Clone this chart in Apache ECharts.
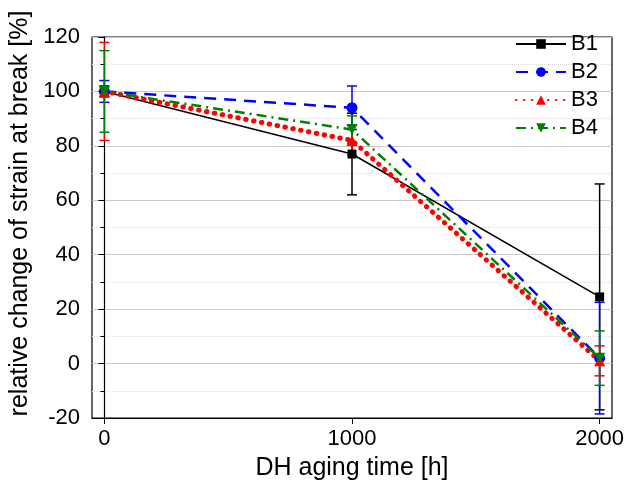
<!DOCTYPE html>
<html>
<head>
<meta charset="utf-8">
<script src="https://cdn.jsdelivr.net/npm/echarts@6/dist/echarts.min.js"></script>
<style>
  html, body { margin: 0; padding: 0; background: #fff; }
  #chart { width: 624px; height: 483px; }
</style>
</head>
<body>
<div id="chart"></div>
<script>
// aging time [h]
const hours = [0, 1000, 2000];
const xTicks = [0, 1000, 2000];

// mean values [%]
const b1 = [100, 77, 24.5];
const b2 = [100, 94, 2];
const b3 = [100, 82, 1];
const b4 = [100, 86, 2];

// error bar half widths [%]
const b1Err = [2, 15, 41.5];
const b2Err = [4, 8, 20.5];
const b3Err = [18, 5.5, 5.5];
const b4Err = [15, 5, 10];

const names = ['B1', 'B2', 'B3', 'B4'];
const colors = ['#000000', '#0000ff', '#ff0000', '#008000'];

const chart = echarts.init(document.getElementById('chart'));

function pairs(vals) {
    return hours.map((h, i) => [h, vals[i]]);
}

function errData(vals, errs) {
    return hours.map((h, i) => [h, vals[i] - errs[i], vals[i] + errs[i]]);
}

function errorRenderer(color) {
    return function (params, api) {
        const top = api.coord([api.value(0), api.value(2)]);
        const bot = api.coord([api.value(0), api.value(1)]);
        const half = 5;
        const style = { stroke: color, lineWidth: 1.5 };
        return {
            type: 'group',
            children: [
                { type: 'line', shape: { x1: top[0], y1: top[1], x2: bot[0], y2: bot[1] }, style: style },
                { type: 'line', shape: { x1: top[0] - half, y1: top[1], x2: top[0] + half, y2: top[1] }, style: style },
                { type: 'line', shape: { x1: bot[0] - half, y1: bot[1], x2: bot[0] + half, y2: bot[1] }, style: style }
            ]
        };
    };
}

const lineDefs = [
    { vals: b1, errs: b1Err, symbol: 'rect', size: 9, lineType: 'solid', width: 1.5, cap: 'butt' },
    { vals: b2, errs: b2Err, symbol: 'circle', size: 11, lineType: [12, 8], width: 2.5, cap: 'butt' },
    { vals: b3, errs: b3Err, symbol: 'triangle', size: 11, lineType: [0.5, 7.5], width: 5, cap: 'round' },
    { vals: b4, errs: b4Err, symbol: 'path://M0,0L10,0L5,9Z', size: 11, lineType: [10, 5, 2, 5], width: 2.5, cap: 'butt' }
];

const series = [];
lineDefs.forEach((d, i) => {
    series.push({
        type: 'custom',
        name: names[i] + '_err',
        renderItem: errorRenderer(colors[i]),
        data: errData(d.vals, d.errs),
        z: 3
    });
});
lineDefs.forEach((d, i) => {
    series.push({
        type: 'line',
        name: names[i],
        data: pairs(d.vals),
        symbol: d.symbol,
        symbolSize: d.size,
        showAllSymbol: true,
        itemStyle: { color: colors[i] },
        lineStyle: { color: colors[i], width: d.width, type: d.lineType, cap: d.cap },
        z: 4
    });
});

const font = 'Liberation Sans, Arial, sans-serif';
const axisFont = { fontFamily: font, fontSize: 22, color: '#000' };

chart.setOption({
    animation: false,
    grid: {
        left: 92, right: 12, top: 37, bottom: 65,
        outerBoundsMode: 'none',
        show: true, borderColor: '#000', borderWidth: 1.2
    },
    legend: {
        data: names,
        orient: 'vertical',
        left: 510, top: 28,
        itemWidth: 50, itemHeight: 12, itemGap: 6,
        textStyle: axisFont
    },
    xAxis: {
        type: 'value',
        min: -50, max: 2050,
        name: 'DH aging time [h]',
        nameLocation: 'middle',
        nameGap: 38,
        nameTextStyle: { fontFamily: font, fontSize: 25, color: '#000' },
        axisLine: { onZero: false, lineStyle: { color: '#000', width: 1.2 } },
        axisTick: { customValues: xTicks, length: 6, lineStyle: { color: '#000' } },
        axisLabel: { customValues: xTicks, margin: 10, formatter: v => String(v), ...axisFont },
        splitLine: { show: false }
    },
    yAxis: {
        type: 'value',
        min: -20, max: 120, interval: 20,
        name: 'relative change of strain at break [%]',
        nameLocation: 'middle',
        nameGap: 56,
        nameTextStyle: { fontFamily: font, fontSize: 25, color: '#000', padding: [0, 0, 0, 28] },
        axisLine: { show: true, lineStyle: { color: '#000', width: 1.2 } },
        axisTick: { show: true, length: 6, lineStyle: { color: '#000' } },
        minorTick: { show: true, splitNumber: 2, length: 4, lineStyle: { color: '#000' } },
        axisLabel: { margin: 12, ...axisFont },
        splitLine: { show: true, lineStyle: { color: '#c8c8c8', width: 1 } },
        minorSplitLine: { show: true, lineStyle: { color: '#dcdcdc', type: 'dotted', width: 1 } }
    },
    series: series
});
</script>
</body>
</html>
